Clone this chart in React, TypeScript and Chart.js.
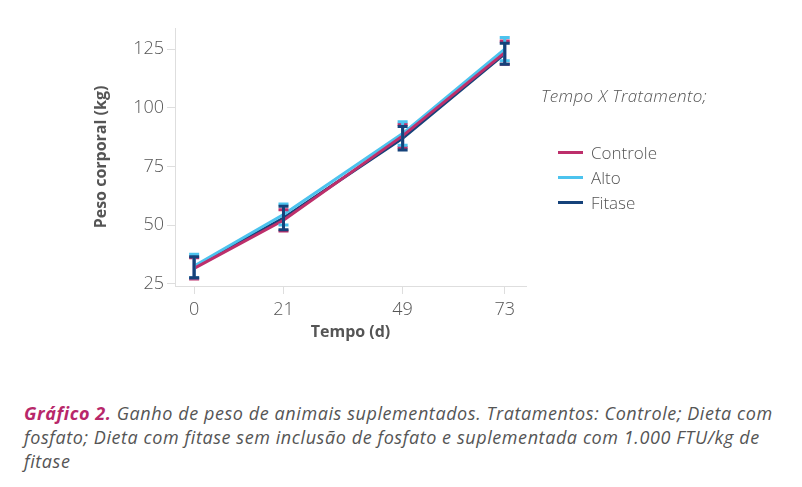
import React, { useEffect, useRef } from 'react';
import Chart from 'chart.js/auto';

const days = [0, 21, 49, 73];
const yTicks = [25, 50, 75, 100, 125];

const seriesNames = ['Controle', 'Alto', 'Fitase'];
const seriesColors = ['#bd2f6b', '#4cc3ee', '#15427a'];

const controle = [31.5, 52, 88, 123.5];
const alto = [32.5, 54.5, 89, 125];
const fitase = [32, 53, 87, 123];

const controleErr = [4.5, 4.5, 5, 5];
const altoErr = [5, 4.5, 5, 5];
const fitaseErr = [4.5, 5, 5, 4.5];

const values = [controle, alto, fitase];
const errors = [controleErr, altoErr, fitaseErr];

const gray = '#555';
const axisGray = '#dedede';
const font = '"Open Sans", sans-serif';

export default function App() {
  const chartRef = useRef<HTMLCanvasElement>(null);
  const chartInstance = useRef<Chart | null>(null);

  useEffect(() => {
    if (!chartRef.current) return;

    if (chartInstance.current) {
      chartInstance.current.destroy();
    }

    const ctx = chartRef.current.getContext('2d');
    if (!ctx) return;

    // draws the error bars of every series on top of the lines
    const errorBars = {
      id: 'errorBars',
      afterDatasetsDraw(chart: Chart) {
        const { ctx, scales } = chart;
        const xs = scales.x;
        const ys = scales.y;
        ctx.save();
        values.forEach((serie, i) => {
          ctx.strokeStyle = seriesColors[i];
          ctx.lineWidth = 3;
          serie.forEach((v, j) => {
            const x = xs.getPixelForValue(days[j]);
            const top = ys.getPixelForValue(v + errors[i][j]);
            const bot = ys.getPixelForValue(v - errors[i][j]);
            ctx.beginPath();
            ctx.moveTo(x, top);
            ctx.lineTo(x, bot);
            ctx.moveTo(x - 5, top);
            ctx.lineTo(x + 5, top);
            ctx.moveTo(x - 5, bot);
            ctx.lineTo(x + 5, bot);
            ctx.stroke();
          });
        });
        ctx.restore();
      },
    };

    chartInstance.current = new Chart(ctx, {
      type: 'line',
      data: {
        datasets: values.map((serie, i) => ({
          label: seriesNames[i],
          data: serie.map((v, j) => ({ x: days[j], y: v })),
          borderColor: seriesColors[i],
          backgroundColor: seriesColors[i],
          borderWidth: 3,
          pointRadius: 0,
          tension: 0,
        })),
      },
      options: {
        animation: false,
        responsive: false,
        maintainAspectRatio: false,
        layout: {
          padding: { left: 88, right: 276, top: 28, bottom: 14 },
        },
        plugins: {
          legend: { display: false },
          tooltip: { enabled: false },
        },
        scales: {
          x: {
            type: 'linear',
            min: -4.5,
            max: 78,
            afterBuildTicks: (scale: any) => {
              scale.ticks = days.map(d => ({ value: d }));
            },
            afterFit: (scale: any) => {
              scale.height = 60;
            },
            border: { color: axisGray, width: 1 },
            grid: { drawOnChartArea: false, tickLength: 8, color: axisGray },
            ticks: {
              padding: 5,
              color: gray,
              font: { family: font, size: 18, weight: 300 },
            },
            title: {
              display: true,
              text: 'Tempo (d)',
              color: gray,
              font: { family: font, size: 16, weight: 'bold' },
            },
          },
          y: {
            min: 24,
            max: 134,
            afterBuildTicks: (scale: any) => {
              scale.ticks = yTicks.map(t => ({ value: t }));
            },
            afterFit: (scale: any) => {
              scale.width = 87;
            },
            border: { color: axisGray, width: 1 },
            grid: { drawOnChartArea: false, tickLength: 8, color: axisGray },
            ticks: {
              padding: 3,
              color: gray,
              font: { family: font, size: 18, weight: 300 },
            },
            title: {
              display: true,
              text: 'Peso corporal (kg)',
              color: gray,
              font: { family: font, size: 16, weight: 'bold' },
            },
          },
        },
      },
      plugins: [errorBars],
    });

    return () => {
      if (chartInstance.current) {
        chartInstance.current.destroy();
        chartInstance.current = null;
      }
    };
  }, []);

  return (
    <div
      style={{
        position: 'absolute',
        left: 0,
        top: 0,
        width: 802,
        height: 487,
        background: '#fff',
        fontFamily: font,
        color: gray,
      }}
    >
      <canvas ref={chartRef} width={802} height={360} style={{ position: 'absolute', left: 0, top: 0 }}></canvas>

      <div style={{ position: 'absolute', left: 541, top: 84, fontSize: 17, letterSpacing: 0.4, fontStyle: 'italic', fontWeight: 300, whiteSpace: 'nowrap' }}>
        Tempo X Tratamento;
      </div>
      {seriesNames.map((name, i) => (
        <div
          key={name}
          style={{ position: 'absolute', left: 558, top: 141 + i * 25, height: 22, display: 'flex', alignItems: 'center', fontSize: 17, fontWeight: 300 }}
        >
          <span style={{ display: 'inline-block', width: 25, height: 3, background: seriesColors[i], marginRight: 8 }}></span>
          {name}
        </div>
      ))}

      <div style={{ position: 'absolute', left: 24, top: 401, fontSize: 18, letterSpacing: 0.58, lineHeight: '24px', fontStyle: 'italic', fontWeight: 400, whiteSpace: 'nowrap' }}>
        <span style={{ color: '#b8276a', fontWeight: 'bold' }}>Gráfico 2.</span> Ganho de peso de animais suplementados. Tratamentos: Controle; Dieta com
        <br />
        fosfato; Dieta com fitase sem inclusão de fosfato e suplementada com 1.000 FTU/kg de
        <br />
        fitase
      </div>
    </div>
  );
}
